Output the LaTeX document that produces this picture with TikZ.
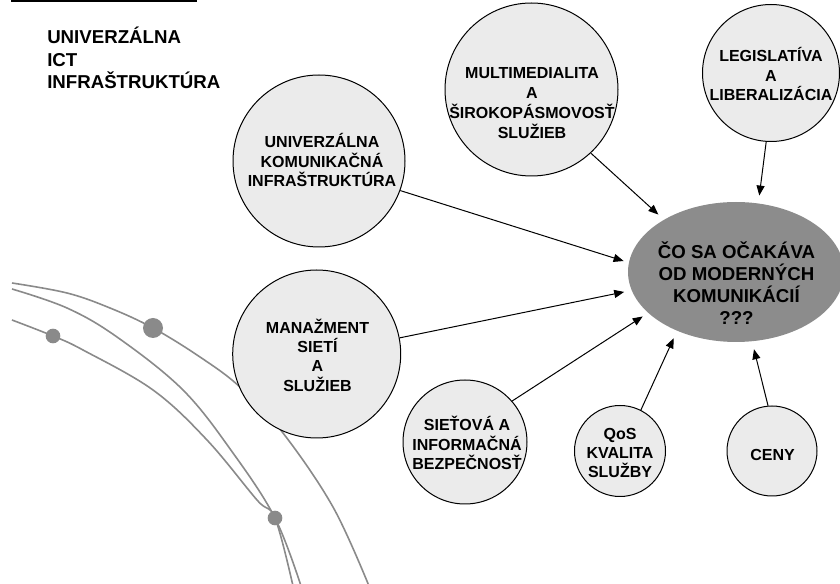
\documentclass[tikz,border=0pt]{standalone}
\usepackage{fontspec}
\setmainfont{Liberation Sans}
\usetikzlibrary{arrows.meta,shapes.geometric}
\definecolor{bubblefill}{HTML}{EBEBEB}
\definecolor{hubfill}{HTML}{8C8C8C}
\definecolor{orbit}{HTML}{8A8A8A}
\begin{document}
\begin{tikzpicture}[x=0.75pt,y=-0.75pt,
  bubble/.style={circle,draw=black,line width=0.75pt,fill=bubblefill,inner sep=0pt},
  hub/.style={ellipse,fill=hubfill,inner sep=0pt,minimum width=162pt,minimum height=105pt},
  caption/.style={align=center,inner sep=0pt,font=\fontsize{12}{14.5}\selectfont\bfseries},
  hubcaption/.style={align=center,inner sep=0pt,font=\fontsize{14}{16.5}\selectfont\bfseries},
  feed/.style={-{Triangle[length=7.5pt,width=6pt]},line width=0.75pt},
  orbitline/.style={orbit,line width=1.2pt},
  orbitdot/.style={circle,fill=orbit,inner sep=0pt}
]
\useasboundingbox (0,0) rectangle (840,584);

% heading with the bar above it
\fill[black] (11,0) rectangle (197,2.5);
\node[anchor=west,align=left,inner sep=0pt,font=\fontsize{14}{16.9}\selectfont\bfseries]
  (title) at (47,58) {UNIVERZÁLNA\\ICT\\INFRAŠTRUKTÚRA};

% orbits in the lower left
\draw[orbitline] plot[smooth,tension=0.6] coordinates
  {(12,283) (67,293) (110,308) (153,328) (200,357) (240,387) (283,433) (333,507) (369,586)};
\draw[orbitline] plot[smooth,tension=0.6] coordinates
  {(12,289) (67,308) (117,337) (183,390) (233,453) (275,518) (301,586)};
\draw[orbitline] plot[smooth,tension=0.6] coordinates
  {(12,320) (53,336) (83,350) (153,390) (207,440) (257,500) (275,518) (293,586)};
\node[orbitdot,minimum size=15pt] (dotbig) at (153,328) {};
\node[orbitdot,minimum size=11pt] (dotleft) at (53,336) {};
\node[orbitdot,minimum size=11pt] (dotlow) at (275,518) {};

% central question
\node[hub] (hub) at (736,272) {};
\node[hubcaption] (hubtext) at (736.5,283.5) {ČO SA OČAKÁVA\\OD MODERNÝCH\\KOMUNIKÁCIÍ\\???};

% surrounding topics
\node[bubble,minimum size=129pt] (infra) at (319,161) {};
\node[caption] (infratext) at (322,160) {UNIVERZÁLNA\\KOMUNIKAČNÁ\\INFRAŠTRUKTÚRA};

\node[bubble,minimum size=129.75pt] (multi) at (531.5,89.5) {};
\node[caption,font=\fontsize{12}{15}\selectfont\bfseries] (multitext) at (532,103)
  {MULTIMEDIALITA\\A\\ŠIROKOPÁSMOVOSŤ\\SLUŽIEB};

\node[bubble,minimum size=102.75pt] (legis) at (771,73) {};
\node[caption] (legistext) at (771,74) {LEGISLATÍVA\\A\\LIBERALIZÁCIA};

\node[bubble,minimum size=126pt] (mgmt) at (316.7,354) {};
\node[caption] (mgmttext) at (317.5,355) {MANAŽMENT\\SIETÍ\\A\\SLUŽIEB};

\node[bubble,minimum size=93pt] (sec) at (465,442) {};
\node[caption] (sectext) at (467,443) {SIEŤOVÁ A\\INFORMAČNÁ\\BEZPEČNOSŤ};

\node[bubble,minimum size=68.25pt] (qos) at (620,451) {};
\node[caption] (qostext) at (620,453) {QoS\\KVALITA\\SLUŽBY};

\node[bubble,minimum size=67.5pt] (price) at (772,451) {};
\node[caption] (pricetext) at (772.5,455) {CENY};

% arrows into the central question
\draw[feed,shorten >=4pt]   (infra.340.2) -- (hub.175.1);
\draw[feed,shorten >=5.6pt] (multi.313.2) -- (hub.144.7);
\draw[feed,shorten >=5.8pt] (legis.266.9) -- (hub.72.5);
\draw[feed,shorten >=5.6pt] (mgmt.11.2)   -- (hub.190.7);
\draw[feed,shorten >=4.8pt] (sec.41.5)    -- (hub.205.3);
\draw[feed,shorten >=6pt]   (qos.63.4)    -- (hub.225.9);
\draw[feed,shorten >=6pt]   (price.95.7)  -- (hub.283.9);
\end{tikzpicture}
\end{document}
